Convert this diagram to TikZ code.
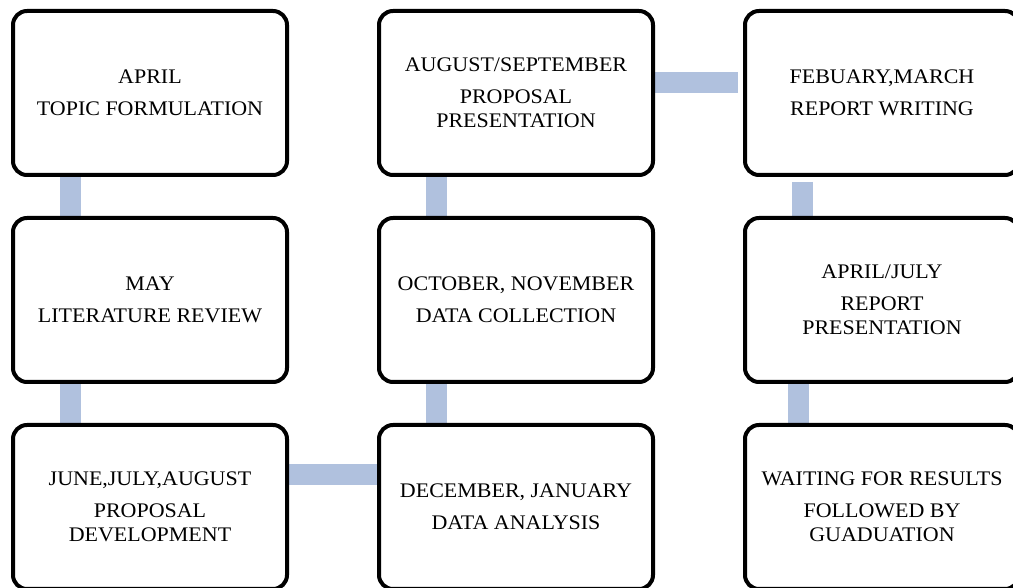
\documentclass[tikz,border=0pt]{standalone}
\usepackage{fontspec}
\setmainfont{Liberation Serif}[FakeStretch=1.06]
\usepackage{xcolor}
\usepackage{tikz}
\usetikzlibrary{positioning,backgrounds}
\definecolor{barblue}{HTML}{B0C1DE}

\begin{document}
\begin{tikzpicture}[
    node distance=0.78cm and 1.76cm,
    box/.style={draw, line width=0.08cm, rounded corners=0.28cm, fill=white, minimum width=5.48cm, minimum height=3.28cm, align=center, font=\fontsize{11.8}{13.7}\selectfont},
    bar/.style={draw=barblue, line width=0.42cm}
]
\useasboundingbox (0,0) rectangle (20.26,-11.76);
\node[box] (topic) at (3.0,-1.86) {APRIL\\[4.5pt]TOPIC FORMULATION};
\node[box, below=of topic] (lit) {MAY\\[4.5pt]LITERATURE REVIEW};
\node[box, below=of lit] (dev) {JUNE,JULY,AUGUST\\[4.5pt]PROPOSAL\\DEVELOPMENT};
\node[box, right=of dev] (ana) {DECEMBER, JANUARY\\[4.5pt]DATA ANALYSIS};
\node[box, above=of ana] (coll) {OCTOBER, NOVEMBER\\[4.5pt]DATA COLLECTION};
\node[box, above=of coll] (pres) {AUGUST/SEPTEMBER\\[4.5pt]PROPOSAL\\PRESENTATION};
\node[box, right=of pres] (writ) {FEBUARY,MARCH\\[4.5pt]REPORT WRITING};
\node[box, below=of writ] (rpres) {APRIL/JULY\\[4.5pt]REPORT\\PRESENTATION};
\node[box, below=of rpres] (grad) {WAITING FOR RESULTS\\[4.5pt]FOLLOWED BY\\GUADUATION};

\begin{scope}[on background layer]
\draw[bar] ([xshift=1.18cm]topic.south west) -- ([xshift=1.18cm]lit.north west);
\draw[bar] ([xshift=1.18cm]lit.south west) -- ([xshift=1.18cm]dev.north west);
\draw[bar] ([yshift=0.65cm]dev.east) -- ([yshift=0.65cm]ana.west);
\draw[bar] ([xshift=1.18cm]ana.north west) -- ([xshift=1.18cm]coll.south west);
\draw[bar] ([xshift=1.18cm]coll.north west) -- ([xshift=1.18cm]pres.south west);
\draw[bar] ([yshift=0.2cm]pres.east) -- ([yshift=0.2cm,xshift=-0.1cm]writ.west);
\draw[bar] ([xshift=1.18cm,yshift=-0.1cm]writ.south west) -- ([xshift=1.18cm]rpres.north west);
\draw[bar] ([xshift=1.1cm]rpres.south west) -- ([xshift=1.1cm]grad.north west);
\end{scope}
\end{tikzpicture}
\end{document}
